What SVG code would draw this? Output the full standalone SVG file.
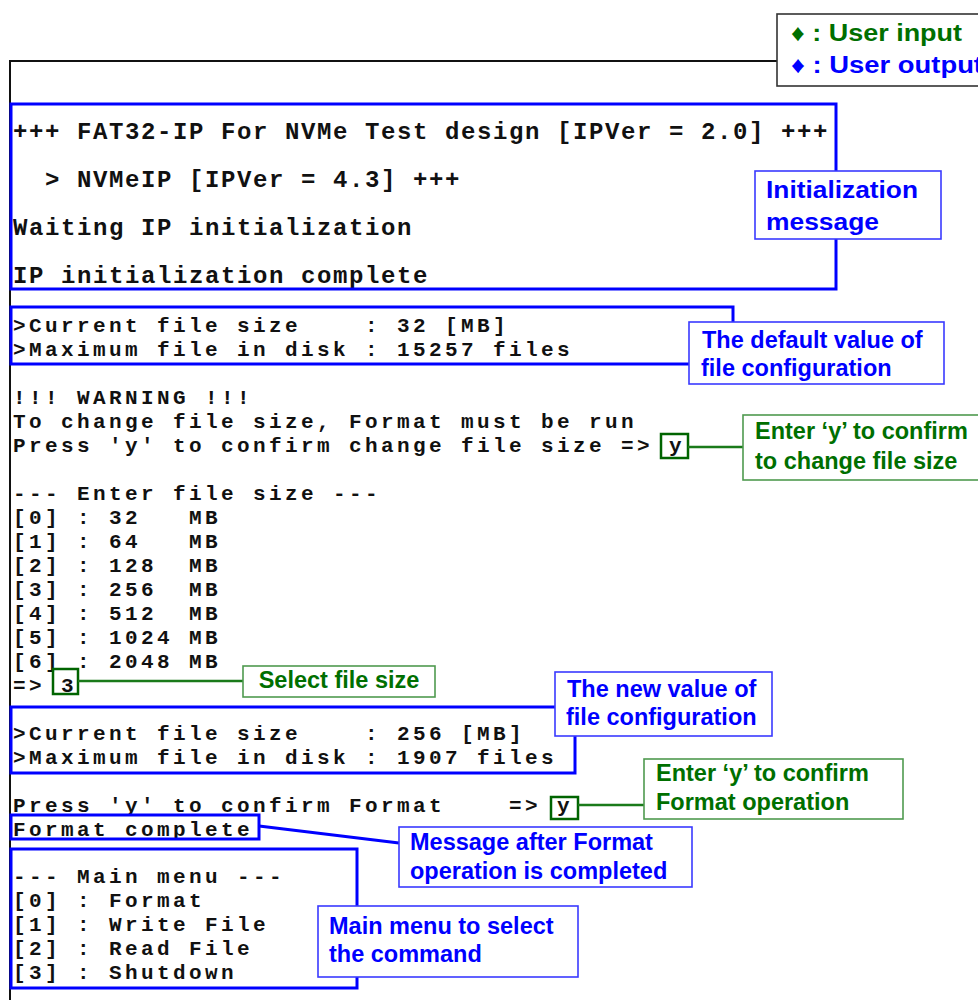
<svg xmlns="http://www.w3.org/2000/svg" width="978" height="1000" viewBox="0 0 978 1000">
<style>
.term{font-family:"Liberation Mono","DejaVu Sans Mono",monospace;font-weight:bold;font-size:21px;letter-spacing:3.4px;fill:#111;white-space:pre}
.big{font-size:24px;letter-spacing:1.6px}
.bbox{fill:none;stroke:#0000ff;stroke-width:3}
.gbox{fill:none;stroke:#006400;stroke-width:2.5}
.bcall{fill:#fff;stroke:#3a3aff;stroke-width:1.6}
.gcall{fill:#fff;stroke:#4f9a4f;stroke-width:1.6}
.bt{font-family:"Liberation Sans",Arial,sans-serif;font-weight:bold;font-size:23.5px;fill:#0000ff}
.gt{font-family:"Liberation Sans",Arial,sans-serif;font-weight:bold;font-size:23.5px;fill:#006f00}
.gline{stroke:#1a7a1a;stroke-width:2.5;fill:none}
.bline{stroke:#0000ff;stroke-width:3;fill:none}
</style>

<g id="frame">
<polyline points="10,1000 10,61 777,61" fill="none" stroke="#111" stroke-width="2"/>
</g>

<g id="legend">
<rect x="777" y="14" width="210" height="72" fill="#fff" stroke="#333" stroke-width="1.6"/>
<text class="gt" x="791" y="41" font-size="24" textLength="171" lengthAdjust="spacingAndGlyphs">♦ : User input</text>
<text class="bt" x="791" y="73" font-size="24" textLength="192" lengthAdjust="spacingAndGlyphs">♦ : User output</text>
</g>

<g id="terminal" xml:space="preserve">
<text class="term big" x="13" y="139">+++ FAT32-IP For NVMe Test design [IPVer = 2.0] +++</text>
<text class="term big" x="13" y="187">  &gt; NVMeIP [IPVer = 4.3] +++</text>
<text class="term big" x="13" y="235">Waiting IP initialization</text>
<text class="term big" x="13" y="283">IP initialization complete</text>
<text class="term" x="13" y="332">&gt;Current file size    : 32 [MB]</text>
<text class="term" x="13" y="356">&gt;Maximum file in disk : 15257 files</text>
<text class="term" x="13" y="404">!!! WARNING !!!</text>
<text class="term" x="13" y="428">To change file size, Format must be run</text>
<text class="term" x="13" y="452">Press 'y' to confirm change file size =&gt; y</text>
<text class="term" x="13" y="500">--- Enter file size ---</text>
<text class="term" x="13" y="524">[0] : 32   MB</text>
<text class="term" x="13" y="548">[1] : 64   MB</text>
<text class="term" x="13" y="572">[2] : 128  MB</text>
<text class="term" x="13" y="596">[3] : 256  MB</text>
<text class="term" x="13" y="620">[4] : 512  MB</text>
<text class="term" x="13" y="644">[5] : 1024 MB</text>
<text class="term" x="13" y="668">[6] : 2048 MB</text>
<text class="term" x="13" y="692">=&gt; 3</text>
<text class="term" x="13" y="740">&gt;Current file size    : 256 [MB]</text>
<text class="term" x="13" y="764">&gt;Maximum file in disk : 1907 files</text>
<text class="term" x="13" y="812">Press 'y' to confirm Format    =&gt; y</text>
<text class="term" x="13" y="836">Format complete</text>
<text class="term" x="13" y="883">--- Main menu ---</text>
<text class="term" x="13" y="907">[0] : Format</text>
<text class="term" x="13" y="931">[1] : Write File</text>
<text class="term" x="13" y="955">[2] : Read File</text>
<text class="term" x="13" y="979">[3] : Shutdown</text>
</g>

<g id="box-init"><rect class="bbox" x="11" y="104" width="825" height="185"/></g>
<g id="box-default"><rect class="bbox" x="11" y="307" width="722" height="57"/></g>
<g id="box-new"><rect class="bbox" x="11" y="707" width="564" height="66"/></g>
<g id="box-format-complete"><rect class="bbox" x="11" y="815" width="248" height="24"/></g>
<g id="box-main-menu"><rect class="bbox" x="11" y="849" width="346" height="139"/></g>
<g id="input-y1"><rect class="gbox" x="661" y="434" width="27" height="24"/></g>
<g id="input-3"><rect class="gbox" x="53" y="669" width="25" height="25"/></g>
<g id="input-y2"><rect class="gbox" x="551" y="797" width="27" height="22"/></g>

<g id="connectors">
<line class="gline" x1="688" y1="447" x2="743" y2="447"/>
<line class="gline" x1="78" y1="681" x2="243" y2="681"/>
<line class="gline" x1="578" y1="805" x2="644" y2="805"/>
<line class="bline" x1="259" y1="826" x2="399" y2="843"/>
</g>

<g id="callout-init">
<rect class="bcall" x="755" y="171" width="186" height="68"/>
<text class="bt" x="766" y="198" font-size="25" textLength="152" lengthAdjust="spacingAndGlyphs">Initialization</text>
<text class="bt" x="766" y="230" font-size="25" textLength="113" lengthAdjust="spacingAndGlyphs">message</text>
</g>

<g id="callout-default">
<rect class="bcall" x="689" y="322" width="255" height="62"/>
<text class="bt" x="702" y="348">The default value of</text>
<text class="bt" x="701" y="376">file configuration</text>
</g>

<g id="callout-confirm-size">
<rect class="gcall" x="743" y="415" width="245" height="65"/>
<text class="gt" x="755" y="439">Enter ‘y’ to confirm</text>
<text class="gt" x="755" y="469">to change file size</text>
</g>

<g id="callout-select">
<rect class="gcall" x="243" y="666" width="192" height="31"/>
<text class="gt" x="339" y="688" text-anchor="middle">Select file size</text>
</g>

<g id="callout-new">
<rect class="bcall" x="555" y="672" width="217" height="64"/>
<text class="bt" x="567" y="697">The new value of</text>
<text class="bt" x="566" y="725">file configuration</text>
</g>

<g id="callout-confirm-format">
<rect class="gcall" x="644" y="759" width="259" height="60"/>
<text class="gt" x="656" y="781">Enter ‘y’ to confirm</text>
<text class="gt" x="656" y="810">Format operation</text>
</g>

<g id="callout-message">
<rect class="bcall" x="399" y="827" width="293" height="60"/>
<text class="bt" x="410" y="850">Message after Format</text>
<text class="bt" x="410" y="879">operation is completed</text>
</g>

<g id="callout-main-menu">
<rect class="bcall" x="318" y="906" width="260" height="71"/>
<text class="bt" x="329" y="934">Main menu to select</text>
<text class="bt" x="329" y="962">the command</text>
</g>
</svg>
